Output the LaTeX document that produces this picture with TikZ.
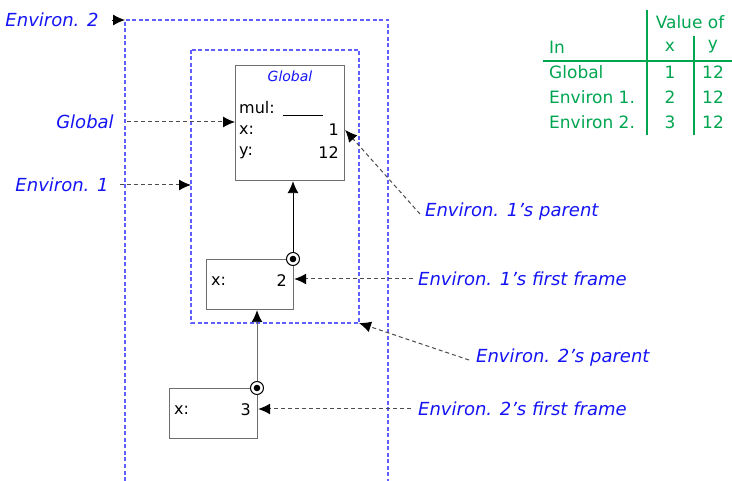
\documentclass[tikz,border=0pt]{standalone}
\usepackage{fontspec}
\setmainfont{DejaVu Sans}
\usetikzlibrary{arrows.meta}

\definecolor{envtext}{RGB}{20,20,245}
\definecolor{envline}{RGB}{95,95,255}
\definecolor{tabgreen}{RGB}{0,165,80}
\definecolor{framegray}{RGB}{110,110,110}

\tikzset{
  envlabel/.style={text=envtext, font=\fontsize{18}{20}\selectfont\itshape, inner sep=1pt},
  envbox/.style={draw=envline, line width=1.1pt, dash pattern=on 4pt off 2.5pt},
  framebox/.style={draw=framegray, line width=1.2pt, anchor=north west, inner sep=0pt},
  frametext/.style={font=\fontsize{16}{18}\selectfont, inner sep=0pt},
  pointer/.style={dash pattern=on 4pt off 3pt, draw=black!70, line width=1pt,
    -{Latex[length=12pt,width=11pt,color=black]}},
  parentarrow/.style={line width=0.9pt, -{Latex[length=12pt,width=11pt,color=black]}},
  tabtext/.style={text=tabgreen, font=\fontsize{17}{19}\selectfont, inner sep=0pt},
  dotmark/.style={circle, draw, line width=1pt, fill=white, minimum size=13pt, inner sep=0pt}
}

\begin{document}
\begin{tikzpicture}[x=1pt,y=-1pt]
\useasboundingbox (0,0) rectangle (732,481);

% Environments
\draw[envbox] (125,481) -- (125,20) -- (388,20) -- (388,481);   % Environ. 2
\draw[envbox] (191,50) rectangle (359,323);                      % Environ. 1
\coordinate (envtwo) at (125,20);
\coordinate (envone) at (191,185);
\coordinate (envonecorner) at (359,323);

% Global frame
\node[framebox, minimum width=109, minimum height=115] (global) at (235,65) {};
\node[envlabel, font=\fontsize{14}{16}\selectfont\itshape] (gtitle) at (290,76) {Global};
\node[frametext, anchor=west] (gmul) at (239,108) {mul:};
\draw[line width=1pt] (283,116) -- (323,116);
\node[frametext, anchor=west] (gxname) at (239,130) {x:};
\node[frametext, anchor=east] (gxval) at (339,130) {1};
\node[frametext, anchor=west] (gyname) at (239,153) {y:};
\node[frametext, anchor=east] (gyval) at (339,153) {12};

% Environ. 1's first frame
\node[framebox, minimum width=87, minimum height=50] (frameone) at (206,259) {};
\node[frametext, anchor=west] (onexname) at (211,281) {x:};
\node[frametext, anchor=east] (onexval) at (287,281) {2};
\node[dotmark] (dotone) at (293,259) {};
\fill (dotone) circle (3.3pt);
\draw[parentarrow] (dotone.north) -- (dotone.north |- global.south);

% Environ. 2's first frame
\node[framebox, minimum width=88, minimum height=50] (frametwo) at (169,388) {};
\node[frametext, anchor=west] (twoxname) at (174,410) {x:};
\node[frametext, anchor=east] (twoxval) at (251,410) {3};
\node[dotmark] (dottwo) at (257,388) {};
\fill (dottwo) circle (3.3pt);
\draw[parentarrow, draw=framegray] (dottwo.north) -- (dottwo.north |- frameone.south);

% Labels on the left
\node[envlabel] (lenvtwo) at (52,20) {Environ. 2};
\node[envlabel] (lglobal) at (85,122) {Global};
\node[envlabel] (lenvone) at (62,185) {Environ. 1};
\draw[parentarrow] (lenvtwo.east) ++(12,0) -- (envtwo);
\draw[pointer] (lglobal.east) ++(12,0) -- (global.west |- lglobal);
\draw[pointer] (lenvone.east) ++(10,0) -- (envone);

% Labels on the right
\node[envlabel, anchor=west] (lparentone) at (424,212) {Environ. 1's parent};
\node[envlabel, anchor=west] (lfirstone) at (417,279) {Environ. 1's first frame};
\node[envlabel, anchor=west] (lparenttwo) at (475,358) {Environ. 2's parent};
\node[envlabel, anchor=west] (lfirsttwo) at (417,409) {Environ. 2's first frame};
\draw[pointer] (lparentone.west) ++(-4,2) -- (global.east |- gxval);
\draw[pointer] (lfirstone.west) ++(-4,0) -- (frameone.east |- lfirstone);
\draw[pointer] (lparenttwo.west) ++(-6,2) -- (envonecorner);
\draw[pointer] (lfirsttwo.west) ++(-6,0) -- (frametwo.east |- lfirsttwo);

% Table
\node[tabtext] (tvalue) at (690,22) {Value of};
\node[tabtext, anchor=west] (tin) at (549,47) {In};
\node[tabtext] (tx) at (670,47) {x};
\node[tabtext] (ty) at (713,47) {y};
\node[tabtext, anchor=west] (tglobal) at (549,72) {Global};
\node[tabtext, anchor=west] (tenvone) at (549,97) {Environ 1.};
\node[tabtext, anchor=west] (tenvtwo) at (549,122) {Environ 2.};
\node[tabtext] (tgx) at (670,72) {1};
\node[tabtext] (tgy) at (713,72) {12};
\node[tabtext] (t1x) at (670,97) {2};
\node[tabtext] (t1y) at (713,97) {12};
\node[tabtext] (t2x) at (670,122) {3};
\node[tabtext] (t2y) at (713,122) {12};
\draw[tabgreen, line width=1.2pt] (647,10) -- (647,135);
\draw[tabgreen, line width=1.2pt] (694,36) -- (694,135);
\draw[tabgreen, line width=1.2pt] (543,61) -- (732,61);
\end{tikzpicture}
\end{document}
